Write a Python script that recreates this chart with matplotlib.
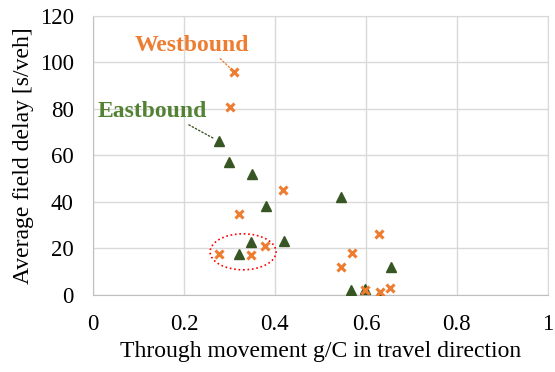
import numpy as np
import matplotlib.pyplot as plt
from matplotlib.patches import Ellipse

# through movement g/C vs. average field delay, by travel direction
east_gc = [0.277, 0.300, 0.350, 0.380, 0.347, 0.321, 0.420, 0.545, 0.655, 0.568, 0.598, 0.628]
east_delay = [66, 57, 52, 38, 22.5, 17.5, 23, 42, 12, 2, 2.5, 0]

west_gc = [0.310, 0.301, 0.418, 0.321, 0.277, 0.348, 0.378, 0.628, 0.570, 0.545, 0.598, 0.632, 0.652]
west_delay = [96, 81, 45, 34.5, 17.5, 17, 21, 26, 18, 12, 2, 1, 3]

xticks = [0, 0.2, 0.4, 0.6, 0.8, 1]
xticklabels = ['0', '0.2', '0.4', '0.6', '0.8', '1']
yticks = [0, 20, 40, 60, 80, 100, 120]

orange = '#ED7D31'
green_mk = '#375623'
green_txt = '#548235'

plt.rcParams['font.family'] = ['Liberation Serif', 'DejaVu Serif']

fig = plt.figure(figsize=(5.55, 3.72), dpi=100)
ax = fig.add_axes([0.1676, 0.2083, 0.8194, 0.7487])

ax.plot(east_gc, east_delay, linestyle='none', marker='^', markersize=7,
        color=green_mk, zorder=3)
ax.plot(west_gc, west_delay, linestyle='none', marker='x', markersize=6,
        markeredgewidth=2.2, color=orange, zorder=4)

ax.set_xlim(0, 1)
ax.set_ylim(0, 120)
ax.set_xticks(xticks)
ax.set_xticklabels(xticklabels)
ax.set_yticks(yticks)
ax.tick_params(length=0, labelsize=16.5)
ax.tick_params(axis='x', pad=14)
ax.tick_params(axis='y', pad=14)
ax.grid(True, color='#d9d9d9', linewidth=1)
ax.set_axisbelow(True)
for s in ax.spines.values():
    s.set_color('#d9d9d9')
ax.spines['left'].set_color('#bfbfbf')
ax.spines['bottom'].set_color('#bfbfbf')

ax.set_xlabel('Through movement g/C in travel direction', fontsize=17, labelpad=4)
ax.set_ylabel('Average field delay [s/veh]', fontsize=17, labelpad=4)

# series labels with dotted leader lines
ax.annotate('Westbound', xy=(west_gc[0], west_delay[0]), xytext=(0.218, 107.3),
            ha='center', va='center', fontsize=17, fontweight='bold', color=orange,
            arrowprops=dict(arrowstyle='-', linestyle=':', color=orange, lw=1,
                            relpos=(0.72, 0), shrinkA=0, shrinkB=4))
ax.annotate('Eastbound', xy=(east_gc[0], east_delay[0]), xytext=(0.13, 78.8),
            ha='center', va='center', fontsize=17, fontweight='bold', color=green_txt,
            arrowprops=dict(arrowstyle='-', linestyle=':', color=green_mk, lw=1,
                            relpos=(0.79, 0), shrinkA=0, shrinkB=4))

ax.add_patch(Ellipse((0.33, 18.4), 0.145, 15.5, fill=False, edgecolor='red',
                     linestyle=':', linewidth=1.2, zorder=5))

fig.savefig('out.png', dpi=100)
